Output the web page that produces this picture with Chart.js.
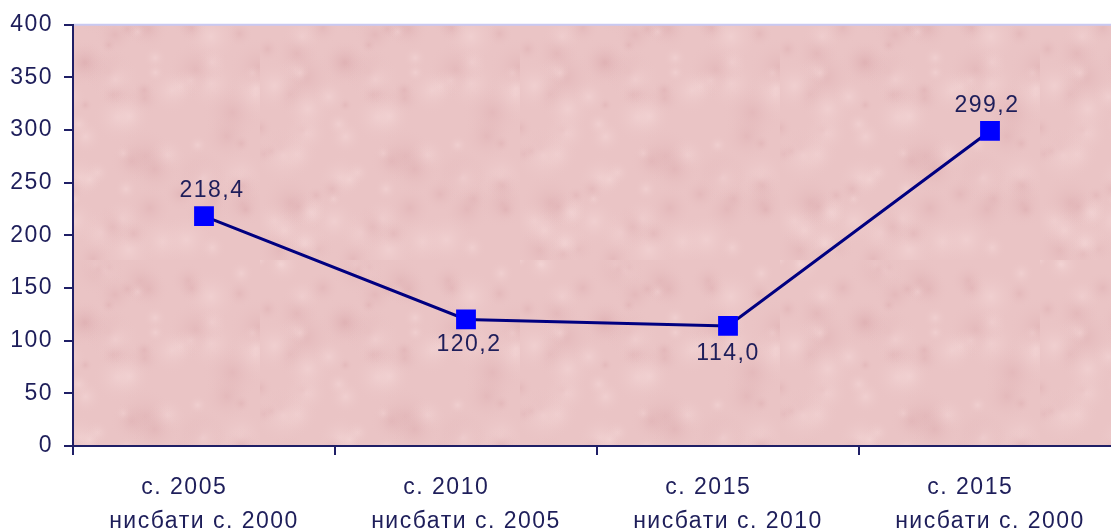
<!DOCTYPE html>
<html>
<head>
<meta charset="utf-8">
<script src="https://cdn.jsdelivr.net/npm/chart.js@4/dist/chart.umd.min.js"></script>
<style>
  html, body { margin: 0; padding: 0; background: #fff; overflow: hidden; }
  #wrap { width: 1111px; height: 530px; }
</style>
</head>
<body>
<div id="wrap"><canvas id="chart" width="1111" height="530"></canvas></div>
<script>
// chart data
const categories = [
    ['с. 2005     ', 'нисбати с. 2000'],
    ['с. 2010     ', 'нисбати с. 2005'],
    ['с. 2015     ', 'нисбати с. 2010'],
    ['с. 2015     ', 'нисбати с. 2000']
];
const values = [218.4, 120.2, 114.0, 299.2];
const yTicks = [0, 50, 100, 150, 200, 250, 300, 350, 400];

const navy = '#1f1f66';
const textColor = '#1e1e5a';
const fontFamily = '"Liberation Sans", Arial, sans-serif';

// label placement per point: [dx, dy, below]
const labelOffsets = [[8, -4, false], [3, 14, true], [0, 16, true], [-3, -4, false]];

// soft mottled background for the plot area
function makeTexture() {
    const c = document.createElement('canvas');
    c.width = 260; c.height = 260;
    const g = c.getContext('2d');
    g.fillStyle = '#eac4c5';
    g.fillRect(0, 0, 260, 260);
    for (let i = 0; i < 110; i++) {
        const x = (Math.sin(i * 12.9898) * 43758.5453 % 1 + 1) % 1 * 260;
        const y = (Math.sin(i * 78.233) * 12345.678 % 1 + 1) % 1 * 260;
        const r = 8 + (i * 7 % 23);
        const light = i % 2 === 0;
        const grad = g.createRadialGradient(x, y, 0, x, y, r);
        grad.addColorStop(0, light ? 'rgba(246,218,218,0.5)' : 'rgba(214,160,164,0.3)');
        grad.addColorStop(1, 'rgba(234,196,197,0)');
        g.fillStyle = grad;
        g.fillRect(x - r, y - r, r * 2, r * 2);
    }
    return c;
}

// the plot in the reference runs on past the right edge of the picture
const PLOT_RIGHT = 1121;
const stretchPlot = {
    id: 'stretchPlot',
    afterLayout(chart) {
        const a = chart.chartArea;
        a.right = PLOT_RIGHT;
        a.width = a.right - a.left;
        const x = chart.scales.x;
        x.right = PLOT_RIGHT;
        x.width = x.right - x.left;
        x.configure();
    }
};

const plotBackground = {
    id: 'plotBackground',
    beforeInit(chart) {
        chart.ctx.letterSpacing = '1.5px';
    },
    beforeDraw(chart) {
        const { ctx, chartArea: a } = chart;
        ctx.letterSpacing = '1.5px';
        ctx.save();
        ctx.fillStyle = ctx.createPattern(makeTexture(), 'repeat');
        ctx.fillRect(a.left, a.top, a.right - a.left, a.bottom - a.top);
        // thin lavender line along the top
        ctx.strokeStyle = '#c9c9f2';
        ctx.lineWidth = 2;
        ctx.beginPath();
        ctx.moveTo(a.left, a.top);
        ctx.lineTo(a.right, a.top);
        ctx.stroke();
        ctx.restore();
    }
};

// value labels with comma decimals
const valueLabels = {
    id: 'valueLabels',
    afterDatasetsDraw(chart) {
        const ctx = chart.ctx;
        const meta = chart.getDatasetMeta(0);
        ctx.save();
        ctx.font = '23px ' + fontFamily;
        ctx.fillStyle = textColor;
        ctx.textAlign = 'center';
        meta.data.forEach((pt, i) => {
            const txt = values[i].toFixed(1).replace('.', ',');
            const [dx, dy, below] = labelOffsets[i];
            ctx.textBaseline = below ? 'top' : 'bottom';
            ctx.fillText(txt, pt.x + dx, below ? pt.y + dy : pt.y - 10 + dy);
        });
        ctx.restore();
    }
};

const chart = new Chart(document.getElementById('chart'), {
    type: 'line',
    data: {
        labels: categories,
        datasets: [{
            data: values,
            borderColor: '#000080',
            borderWidth: 3,
            pointStyle: 'rect',
            pointRadius: 14,
            pointHoverRadius: 14,
            pointBackgroundColor: '#0000ff',
            pointBorderColor: '#0000ff',
            pointBorderWidth: 0,
            tension: 0
        }]
    },
    options: {
        responsive: false,
        animation: false,
        layout: { padding: { top: 24, right: 0, left: 0, bottom: 0 } },
        plugins: {
            legend: { display: false },
            tooltip: { enabled: false }
        },
        scales: {
            x: {
                offset: true,
                grid: {
                    offset: true,
                    drawOnChartArea: false,
                    color: navy,
                    lineWidth: 2,
                    tickLength: 9
                },
                border: { color: navy, width: 2 },
                ticks: {
                    color: textColor,
                    font: { family: fontFamily, size: 23, lineHeight: 1.5 },
                    padding: 15,
                    maxRotation: 0
                },
                afterFit(scale) {
                    scale.height = 84;
                }
            },
            y: {
                min: 0,
                max: 400,
                afterBuildTicks(scale) { scale.ticks = yTicks.map(v => ({ value: v })); },
                grid: {
                    drawOnChartArea: false,
                    color: navy,
                    lineWidth: 2,
                    tickLength: 9
                },
                border: { color: navy, width: 2 },
                ticks: {
                    color: textColor,
                    font: { family: fontFamily, size: 23 },
                    padding: 11
                },
                afterFit(scale) { scale.width = 73; }
            }
        }
    },
    plugins: [stretchPlot, plotBackground, valueLabels]
});
</script>
</body>
</html>
